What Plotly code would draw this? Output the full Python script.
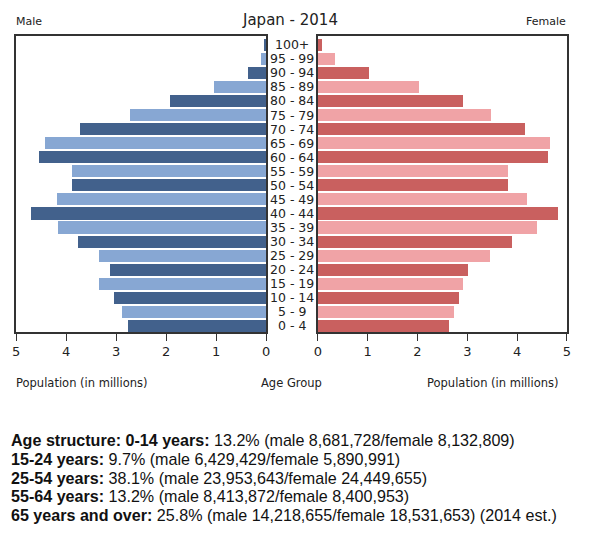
import plotly.graph_objects as go

age_groups = ["0 - 4", "5 - 9", "10 - 14", "15 - 19", "20 - 24", "25 - 29", "30 - 34",
              "35 - 39", "40 - 44", "45 - 49", "50 - 54", "55 - 59", "60 - 64", "65 - 69",
              "70 - 74", "75 - 79", "80 - 84", "85 - 89", "90 - 94", "95 - 99", "100+"]
male = [2.76, 2.88, 3.04, 3.33, 3.11, 3.33, 3.75, 4.16, 4.70, 4.18, 3.88, 3.88,
        4.55, 4.42, 3.71, 2.72, 1.92, 1.04, 0.35, 0.09, 0.02]
female = [2.64, 2.74, 2.83, 2.92, 3.02, 3.46, 3.90, 4.40, 4.81, 4.19, 3.82, 3.82,
          4.62, 4.65, 4.16, 3.48, 2.92, 2.02, 1.03, 0.34, 0.08]
x_ticks = [0, 1, 2, 3, 4, 5]
title = "Japan - 2014"
footer_lines = [
    ("Age structure: 0-14 years:", " 13.2% (male 8,681,728/female 8,132,809)"),
    ("15-24 years:", " 9.7% (male 6,429,429/female 5,890,991)"),
    ("25-54 years:", " 38.1% (male 23,953,643/female 24,449,655)"),
    ("55-64 years:", " 13.2% (male 8,413,872/female 8,400,953)"),
    ("65 years and over:", " 25.8% (male 14,218,655/female 18,531,653) (2014 est.)"),
]

# page has an 8px body margin: figure is sized to fit inside the window
OFF = 8
W, H = 589 - 2 * OFF, 534 - 2 * OFF
KX = 1.01  # small horizontal correction
CX = 294.5


def px(x):
    return (CX + (x - CX) * KX - OFF) / W


def py(y):
    return 1 - (y - OFF) / H


male_dark, male_light = "#42618c", "#87a7d3"
fem_dark, fem_light = "#c9605f", "#f0a3a6"
ypos = list(range(len(age_groups)))
male_colors = [male_dark if i % 2 == 0 else male_light for i in ypos]
fem_colors = [fem_dark if i % 2 == 0 else fem_light for i in ypos]

fig = go.Figure()
fig.add_trace(go.Bar(x=male, y=ypos, orientation="h", xaxis="x", yaxis="y",
                     marker=dict(color=male_colors, line=dict(width=0)), width=0.86,
                     showlegend=False, hoverinfo="x+text", text=age_groups, textposition="none"))
fig.add_trace(go.Bar(x=female, y=ypos, orientation="h", xaxis="x2", yaxis="y2",
                     marker=dict(color=fem_colors, line=dict(width=0)), width=0.86,
                     showlegend=False, hoverinfo="x+text", text=age_groups, textposition="none"))

font = "DejaVu Sans"
yr = [-0.43, 20.62]
ydom = [py(332), py(36)]
axis_common = dict(showline=True, linecolor="#333333", linewidth=1.5, mirror=True,
                   ticks="outside", ticklen=7, tickwidth=1.2, tickcolor="#333333",
                   showgrid=False, zeroline=False,
                   tickfont=dict(family=font, size=13, color="#222222"),
                   tickvals=x_ticks, ticktext=[str(v) for v in x_ticks], fixedrange=True)
yaxis_common = dict(range=yr, showline=True, linecolor="#333333", linewidth=1.5,
                    mirror=True, showticklabels=False, ticks="", showgrid=False,
                    zeroline=False, fixedrange=True, domain=ydom)
fig.update_layout(
    width=W, height=H, margin=dict(l=0, r=0, t=0, b=0),
    paper_bgcolor="white", plot_bgcolor="white",
    xaxis=dict(domain=[px(15), px(266)], range=[5, 0], anchor="y", **axis_common),
    xaxis2=dict(domain=[px(318), px(568)], range=[0, 5], anchor="y2", **axis_common),
    yaxis=dict(anchor="x", **yaxis_common),
    yaxis2=dict(anchor="x2", **yaxis_common),
    bargap=0,
)

ann = []
for i, g in enumerate(age_groups):
    ann.append(dict(x=px(292), xref="paper", y=i, yref="y", text=g, showarrow=False,
                    xanchor="center", yanchor="middle",
                    font=dict(family=font, size=12.5, color="#222222")))
ann.append(dict(x=px(290), y=py(20), xref="paper", yref="paper", text=title,
                showarrow=False, xanchor="center", yanchor="middle",
                font=dict(family=font, size=15, color="#222222")))
ann.append(dict(x=px(13), y=py(22), xref="paper", yref="paper", text="Male",
                showarrow=False, xanchor="left", yanchor="middle",
                font=dict(family=font, size=11, color="#222222")))
ann.append(dict(x=px(569), y=py(22), xref="paper", yref="paper", text="Female",
                showarrow=False, xanchor="right", yanchor="middle",
                font=dict(family=font, size=11, color="#222222")))
for txt, xx, anc in [("Population (in millions)", 13, "left"), ("Age Group", 291, "center"),
                     ("Population (in millions)", 562, "right")]:
    ann.append(dict(x=px(xx), y=py(383), xref="paper", yref="paper", text=txt,
                    showarrow=False, xanchor=anc, yanchor="middle",
                    font=dict(family=font, size=11.5, color="#222222")))
for k, (b, rest) in enumerate(footer_lines):
    ann.append(dict(x=px(8), y=py(440 + 18.8 * k), xref="paper", yref="paper",
                    text="<b>" + b + "</b>" + rest, showarrow=False,
                    xanchor="left", yanchor="middle",
                    font=dict(family="Liberation Sans, Arial", size=16.1, color="#111111")))
fig.update_layout(annotations=ann)

fig.write_html("out.html")
